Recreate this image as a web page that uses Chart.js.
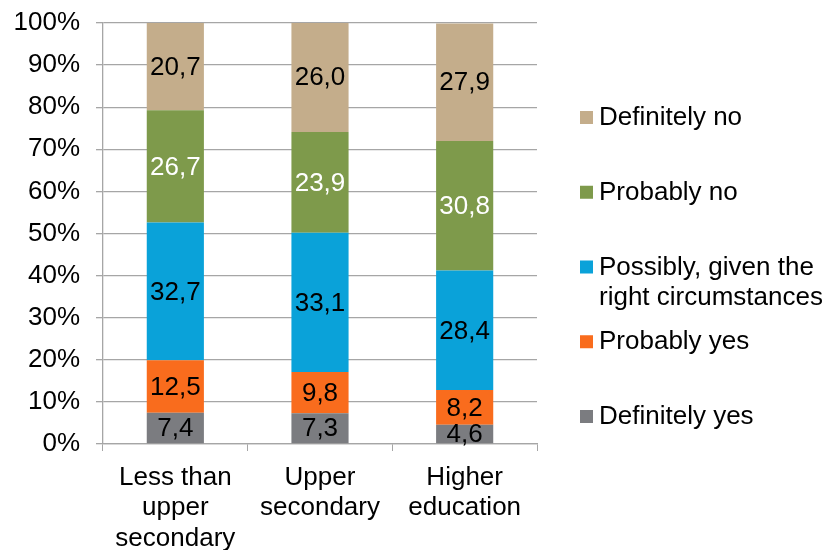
<!DOCTYPE html>
<html>
<head>
<meta charset="utf-8">
<script src="https://cdn.jsdelivr.net/npm/chart.js@4/dist/chart.umd.min.js"></script>
<style>
  html, body { margin: 0; padding: 0; background: #fff; }
  #wrap { width: 830px; height: 550px; }
</style>
</head>
<body>
<div id="wrap"><canvas id="chart" width="830" height="550"></canvas></div>
<script>
const categories = [["Less than", "upper", "secondary"], ["Upper", "secondary"], ["Higher", "education"]];

const definitelyYes = [7.4, 7.3, 4.6];
const probablyYes = [12.5, 9.8, 8.2];
const possibly = [32.7, 33.1, 28.4];
const probablyNo = [26.7, 23.9, 30.8];
const definitelyNo = [20.7, 26.0, 27.9];

const fontFamily = "'Liberation Sans', Arial, sans-serif";
const fontSize = 26;
const gridGray = "#a6a6a6";

function series(label, data, color, textColor) {
  return {
    label, data,
    backgroundColor: color,
    labelColor: textColor,
    borderWidth: 0,
    categoryPercentage: 1,
    barPercentage: 0.395,
  };
}

const valueLabels = {
  id: "valueLabels",
  afterDatasetsDraw(chart) {
    const ctx = chart.ctx;
    ctx.save();
    ctx.font = fontSize + "px " + fontFamily;
    ctx.textAlign = "center";
    ctx.textBaseline = "middle";
    chart.data.datasets.forEach((ds, i) => {
      const meta = chart.getDatasetMeta(i);
      meta.data.forEach((bar, j) => {
        const y = (bar.y + bar.base) / 2;
        ctx.fillStyle = ds.labelColor;
        ctx.fillText(ds.data[j].toFixed(1).replace(".", ","), bar.x, y + 1);
      });
    });
    ctx.restore();
  },
};

const sideLegend = {
  id: "sideLegend",
  afterDraw(chart) {
    const ctx = chart.ctx;
    ctx.save();
    ctx.font = fontSize + "px " + fontFamily;
    ctx.textBaseline = "middle";
    const items = chart.data.datasets.slice().reverse();
    const x0 = 580, y0 = 117, step = 74.75, lineH = 30, maxW = 235;
    items.forEach((ds, k) => {
      const y = y0 + k * step;
      ctx.fillStyle = ds.backgroundColor;
      ctx.fillRect(x0, y - 6, 13, 13);
      const words = ds.label.split(" ");
      const lines = [];
      let cur = "";
      words.forEach(w => {
        const t = cur ? cur + " " + w : w;
        if (ctx.measureText(t).width > maxW && cur) { lines.push(cur); cur = w; }
        else cur = t;
      });
      lines.push(cur);
      ctx.fillStyle = "#000";
      lines.forEach((ln, li) => ctx.fillText(ln, x0 + 19, y + 1 + li * lineH));
    });
    ctx.restore();
  },
};

new Chart(document.getElementById("chart"), {
  type: "bar",
  data: {
    labels: categories,
    datasets: [
      series("Definitely yes", definitelyYes, "#7b7c80", "#000"),
      series("Probably yes", probablyYes, "#f96c1d", "#000"),
      series("Possibly, given the right circumstances", possibly, "#0aa2d9", "#000"),
      series("Probably no", probablyNo, "#7e9a4b", "#fff"),
      series("Definitely no", definitelyNo, "#c4ad8b", "#000"),
    ],
  },
  options: {
    responsive: false,
    animation: false,
    layout: { padding: { top: 23, right: 293, left: 0, bottom: 0 } },
    plugins: {
      legend: { display: false },
      tooltip: { enabled: false },
    },
    scales: {
      x: {
        stacked: true,
        grid: { display: true, drawOnChartArea: false, drawTicks: true, tickLength: 7, color: gridGray, offset: true },
        border: { color: gridGray, width: 1.3 },
        ticks: { color: "#000", font: { family: fontFamily, size: fontSize, lineHeight: 1.16 }, padding: 12, maxRotation: 0 },
        afterFit(axis) { axis.height = 106; axis.paddingLeft = 0; axis.paddingRight = 0; },
      },
      y: {
        stacked: true,
        min: 0, max: 100,
        grid: { color: gridGray, lineWidth: 1.3, tickLength: 7 },
        border: { color: gridGray, width: 1.3 },
        ticks: {
          stepSize: 10,
          color: "#000",
          padding: 16,
          font: { family: fontFamily, size: fontSize },
          callback: v => v + "%",
        },
        afterFit(axis) { axis.width = 103; axis.paddingTop = 0; axis.paddingBottom = 0; },
      },
    },
  },
  plugins: [valueLabels, sideLegend],
});
</script>
</body>
</html>
